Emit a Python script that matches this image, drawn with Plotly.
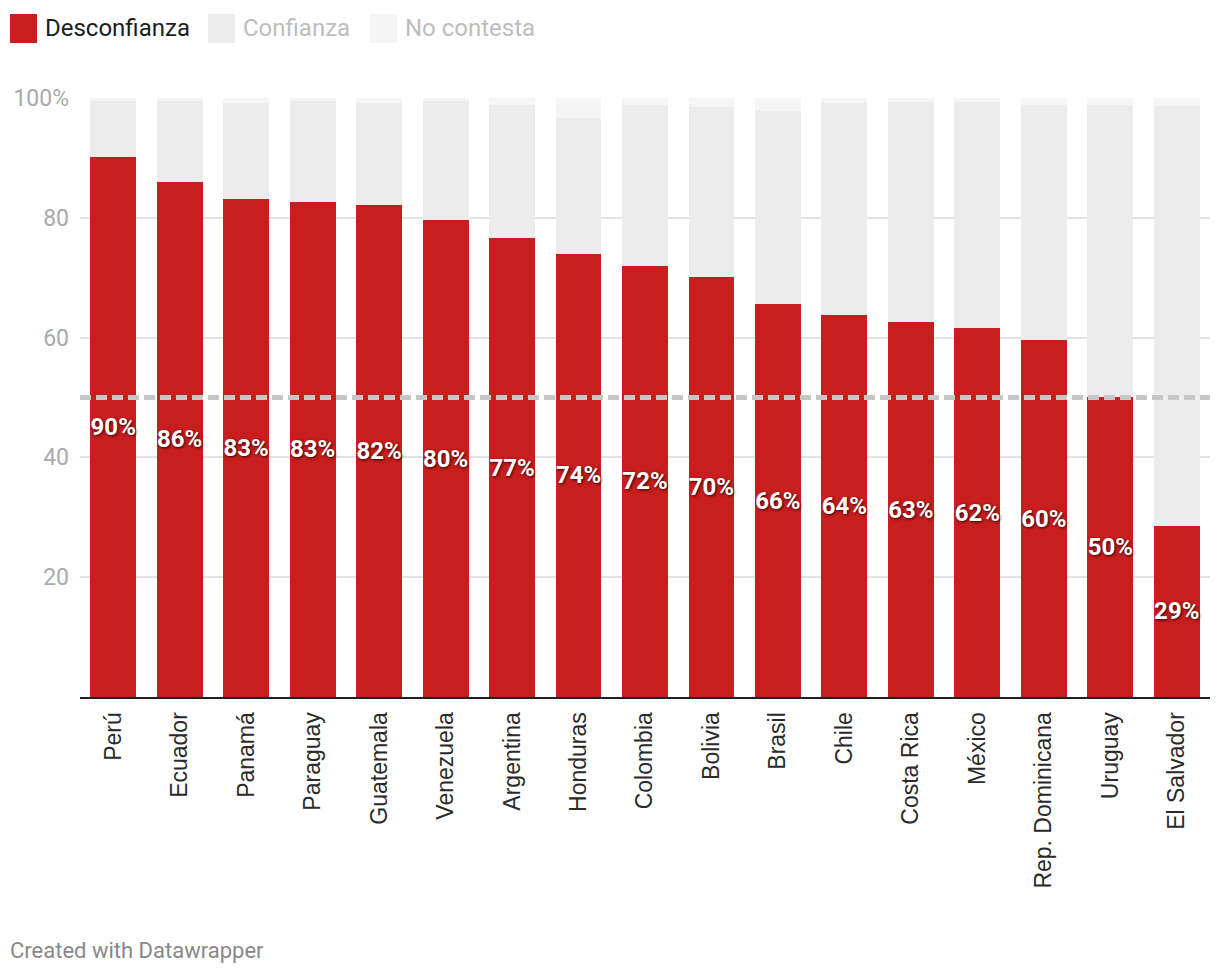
import plotly.graph_objects as go

paises = ["Perú", "Ecuador", "Panamá", "Paraguay", "Guatemala", "Venezuela",
          "Argentina", "Honduras", "Colombia", "Bolivia", "Brasil", "Chile",
          "Costa Rica", "México", "Rep. Dominicana", "Uruguay", "El Salvador"]
desconfianza = [90.1, 86.0, 83.1, 82.7, 82.1, 79.6, 76.6, 74.0, 72.0, 70.1,
                65.6, 63.8, 62.6, 61.6, 59.6, 50.1, 28.6]
confianza = [9.4, 13.5, 16.0, 16.8, 17.0, 19.9, 22.2, 22.7, 26.8, 28.4,
             32.2, 35.3, 36.7, 37.7, 39.3, 48.7, 70.1]
no_contesta = [0.5, 0.5, 0.9, 0.5, 0.9, 0.5, 1.2, 3.3, 1.2, 1.5,
               2.2, 0.9, 0.7, 0.7, 1.1, 1.2, 1.3]
y_tickvals = [20, 40, 60, 80, 100]
y_ticktext = ["20", "40", "60", "80", "100%"]
umbral = 50

ROJO = "#c81e1e"
GRIS_C = "#ececec"
GRIS_NC = "#f5f5f5"
FONT = "Roboto"

etiquetas = [f"{round(v)}%" for v in desconfianza]

fig = go.Figure()
fig.add_trace(go.Bar(
    x=paises, y=desconfianza, name="Desconfianza", marker_color=ROJO,
    marker_line_width=0, text=etiquetas, textposition="inside",
    insidetextanchor="middle", textangle=0,
    textfont=dict(family=FONT, size=24, color="white", weight="bold",
                  shadow="1px 1px 3px rgba(0,0,0,0.8)"),
    hoverinfo="skip"))
fig.add_trace(go.Bar(
    x=paises, y=confianza, name="Confianza", marker_color=GRIS_C,
    marker_line_width=0, hoverinfo="skip"))
fig.add_trace(go.Bar(
    x=paises, y=no_contesta, name="No contesta", marker_color=GRIS_NC,
    marker_line_width=0, hoverinfo="skip"))

# page has an 8px body margin: figure coordinates = screen coordinates - OFF
OFF = 8
W, H = 1220 - OFF, 976 - OFF
L, T = 80 - OFF, 98 - OFF
R = W - (1210 - OFF)
B = H - (697 - OFF)
pw, ph = W - L - R, H - T - B

def px_x(p):
    return (p - OFF - L) / pw

def px_y(p):
    return (H - B - (p - OFF)) / ph

shapes = [dict(type="line", xref="paper", yref="y", x0=0, x1=1, y0=umbral, y1=umbral,
               line=dict(color="#c6c6c6", width=5, dash="11px,5px"), layer="above")]
annotations = []
legend_items = [("Desconfianza", ROJO, "#1d1d1d", 10),
                ("Confianza", GRIS_C, "#bdbdbd", 208),
                ("No contesta", GRIS_NC, "#bdbdbd", 370)]
for name, col, tcol, x0 in legend_items:
    shapes.append(dict(type="rect", xref="paper", yref="paper",
                       x0=px_x(x0), x1=px_x(x0 + 27), y0=px_y(43), y1=px_y(14),
                       fillcolor=col, line_width=0, layer="above"))
    annotations.append(dict(text=name, xref="paper", yref="paper",
                            x=px_x(x0 + 33), y=px_y(28), xanchor="left", yanchor="middle",
                            showarrow=False, font=dict(family=FONT, size=24, color=tcol)))
annotations.append(dict(text="Created with Datawrapper", xref="paper", yref="paper",
                        x=px_x(8), y=px_y(950), xanchor="left", yanchor="middle",
                        showarrow=False, font=dict(family=FONT, size=22, color="#888888")))

fig.update_layout(
    width=W, height=H, barmode="stack", bargap=0.31,
    margin=dict(l=L, r=R, t=T, b=B, autoexpand=False),
    paper_bgcolor="white", plot_bgcolor="white",
    showlegend=False, shapes=shapes, annotations=annotations,
    font=dict(family=FONT),
    uniformtext=dict(minsize=24, mode="show"),
    xaxis=dict(tickangle=-90, tickfont=dict(family="Liberation Sans", size=23, color="#2a2a2a"),
               showline=True, linecolor="#222222", linewidth=2, showgrid=False,
               ticks="", ticklabelstandoff=4, range=[-0.5, len(paises) - 0.5]),
    yaxis=dict(range=[0, 100], tickvals=y_tickvals, ticktext=y_ticktext,
               tickfont=dict(family=FONT, size=23, color="#aaaaaa"),
               showgrid=True, gridcolor="#e3e3e3", gridwidth=2, zeroline=False,
               ticks="", ticklabelstandoff=10, showline=False),
)

fig.write_html("out.html")
